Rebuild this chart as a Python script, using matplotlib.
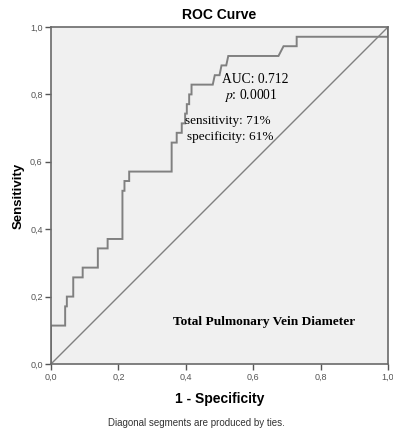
import matplotlib
matplotlib.use("Agg")
import matplotlib.pyplot as plt

# ROC curve points (1 - specificity, sensitivity)
fpr = [0.0, 0.0, 0.042, 0.042, 0.047, 0.047, 0.066, 0.066, 0.094, 0.094,
       0.139, 0.139, 0.168, 0.168, 0.212, 0.212, 0.218, 0.218, 0.232, 0.232,
       0.358, 0.358, 0.373, 0.373, 0.388, 0.388, 0.398, 0.398, 0.403, 0.403,
       0.410, 0.410, 0.417, 0.417, 0.480, 0.486, 0.500, 0.506, 0.520, 0.526,
       0.675, 0.690, 0.729, 0.729, 1.0, 1.0]
tpr = [0.0, 0.114, 0.114, 0.171, 0.171, 0.200, 0.200, 0.257, 0.257, 0.286,
       0.286, 0.343, 0.343, 0.371, 0.371, 0.514, 0.514, 0.543, 0.543, 0.571,
       0.571, 0.657, 0.657, 0.686, 0.686, 0.714, 0.714, 0.743, 0.743, 0.771,
       0.771, 0.800, 0.800, 0.829, 0.829, 0.857, 0.857, 0.886, 0.886, 0.914,
       0.914, 0.943, 0.943, 0.971, 0.971, 1.0]
diag = [0.0, 1.0]
ticks = [0.0, 0.2, 0.4, 0.6, 0.8, 1.0]
tick_labels = ["0,0", "0,2", "0,4", "0,6", "0,8", "1,0"]

auc_text = "AUC: 0.712"
p_value = "0.0001"
sens_text = "sensitivity: 71%"
spec_text = "specificity: 61%"
variable_name = "Total Pulmonary Vein Diameter"

plt.rcParams["font.family"] = ["Liberation Sans", "DejaVu Sans"]
plt.rcParams["mathtext.fontset"] = "stix"

fig = plt.figure(figsize=(3.93, 4.33), dpi=100)
fig.patch.set_facecolor("white")
ax = fig.add_axes([51 / 393, 69 / 433, 337 / 393, 337 / 433])
ax.set_facecolor("#f0f0f0")

line_col = "#808080"
ax.plot(fpr, tpr, color=line_col, lw=1.4, solid_joinstyle="miter")
ax.plot(diag, diag, color=line_col, lw=1.0)

ax.set_xlim(0, 1)
ax.set_ylim(0, 1)
ax.set_xticks(ticks)
ax.set_yticks(ticks)
ax.set_xticklabels(tick_labels)
ax.set_yticklabels(tick_labels)
ax.tick_params(axis="both", direction="out", length=4, width=1.0,
               color="#555555", labelsize=6.5, labelcolor="#555555", pad=2)
for s in ax.spines.values():
    s.set_color("#6a6a6a")
    s.set_linewidth(1.2)

ax.set_title("ROC Curve", fontsize=10, fontweight="bold", pad=6)
ax.set_xlabel("1 - Specificity", fontsize=10, fontweight="bold", labelpad=8)
ax.set_ylabel("Sensitivity", fontsize=9.5, fontweight="bold", labelpad=4)

serif = ["Liberation Serif", "DejaVu Serif"]
ax.text(0.506, 0.843, auc_text, family=serif, fontsize=9.8, va="center", ha="left")
ax.text(0.512, 0.798, "$\\mathit{p}$: " + p_value, family=serif, fontsize=9.8,
        va="center", ha="left")
ax.text(0.398, 0.721, sens_text, family=serif, fontsize=9.5, va="center", ha="left")
ax.text(0.405, 0.674, spec_text, family=serif, fontsize=9.5, va="center", ha="left")
ax.text(0.362, 0.125, variable_name, family=serif, fontsize=9.6,
        fontweight="bold", va="center", ha="left")

fig.text(196 / 393, 1 - 423 / 433, "Diagonal segments are produced by ties.",
         fontsize=7, color="#333333", ha="center", va="center")

fig.savefig("out.png", dpi=100, facecolor="white")
